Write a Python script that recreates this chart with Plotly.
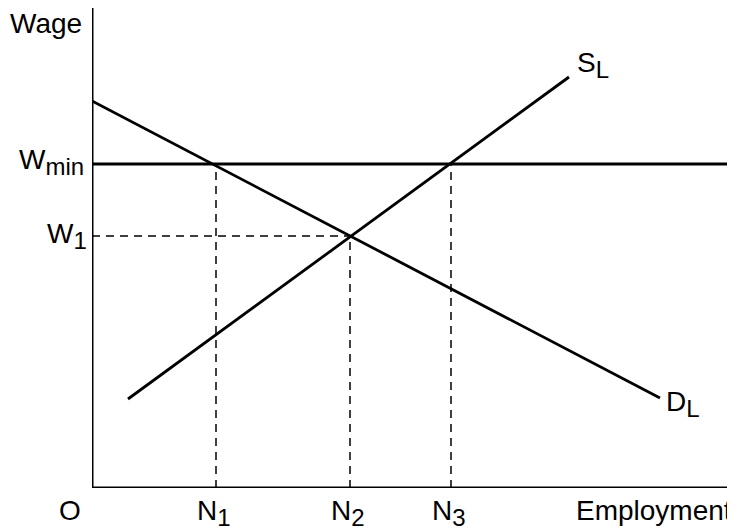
import plotly.graph_objects as go

# labour market with a minimum wage (units are arbitrary)
demand_x = [0, 568]
demand_y = [387, 90]
supply_x = [36, 477]
supply_y = [89, 411]

w_min = 324
w_1 = 252
n_levels = [124, 258, 359]
n_subs = ["1", "2", "3"]

X_MAX = 643
Y_MAX = 480

fnt = dict(family="Liberation Sans, Arial, sans-serif", size=28, color="black")


def sub(base, s, size=24):
    return f"{base}<sub><span style='font-size:{size}px'>{s}</span></sub>"


fig = go.Figure()

fig.add_trace(go.Scatter(x=demand_x, y=demand_y, mode="lines",
                         line=dict(color="black", width=2.8), hoverinfo="skip"))
fig.add_trace(go.Scatter(x=supply_x, y=supply_y, mode="lines",
                         line=dict(color="black", width=2.8), hoverinfo="skip"))

# minimum wage line
fig.add_trace(go.Scatter(x=[0, X_MAX], y=[w_min, w_min], mode="lines",
                         line=dict(color="black", width=2.8), hoverinfo="skip"))

# dashed guides
dash = dict(color="black", width=1.5, dash="8px,6px")
fig.add_trace(go.Scatter(x=[0, n_levels[1]], y=[w_1, w_1], mode="lines",
                         line=dash, hoverinfo="skip"))
guide_tops = [w_min, w_1, w_min]
for n, top in zip(n_levels, guide_tops):
    fig.add_trace(go.Scatter(x=[n, n], y=[0, top], mode="lines",
                             line=dash, hoverinfo="skip"))

ann = []
for n, s in zip(n_levels, n_subs):
    ann.append(dict(x=n, y=0, text=sub("N", s), yshift=-25, xshift=-2,
                    showarrow=False, font=fnt))
ann += [
    dict(x=0, y=0, text="O", xshift=-22, yshift=-22, showarrow=False, font=fnt),
    dict(x=X_MAX, y=0, text="Employment", xanchor="right", xshift=-1,
         yshift=-22, showarrow=False, font=fnt),
    dict(x=0, y=Y_MAX, text="Wage", xanchor="right", xshift=-8, yshift=-15,
         showarrow=False, font=fnt),
    dict(x=0, y=w_min, text=sub("W", "min"), xanchor="right", xshift=-6,
         yshift=2, showarrow=False, font=fnt),
    dict(x=0, y=w_1, text=sub("W", "1"), xanchor="right", xshift=-3,
         yshift=0, showarrow=False, font=fnt),
    dict(x=supply_x[1], y=supply_y[1], text=sub("S", "L"), xanchor="left",
         xshift=6, yshift=12, showarrow=False, font=fnt),
    dict(x=demand_x[1], y=demand_y[1], text=sub("D", "L"), xanchor="left",
         xshift=4, yshift=-6, showarrow=False, font=fnt),
]

# the page body adds an 8px margin, so the figure is sized and offset for it
fig.update_layout(
    width=727, height=523,
    margin=dict(l=84, r=0, t=0, b=43),
    plot_bgcolor="white", paper_bgcolor="white",
    showlegend=False,
    annotations=ann,
    xaxis=dict(range=[0, X_MAX], showgrid=False, zeroline=False,
               showticklabels=False, ticks="", showline=False),
    yaxis=dict(range=[0, Y_MAX], showgrid=False, zeroline=False,
               showticklabels=False, ticks="", showline=False),
)

# axes drawn as shapes so they sit on the plot edges
fig.add_shape(type="line", xref="x", yref="y", x0=0, y0=0, x1=0, y1=Y_MAX,
              line=dict(color="black", width=3))
fig.add_shape(type="line", xref="x", yref="y", x0=0, y0=0, x1=X_MAX, y1=0,
              line=dict(color="black", width=3))

fig.write_html("out.html")
